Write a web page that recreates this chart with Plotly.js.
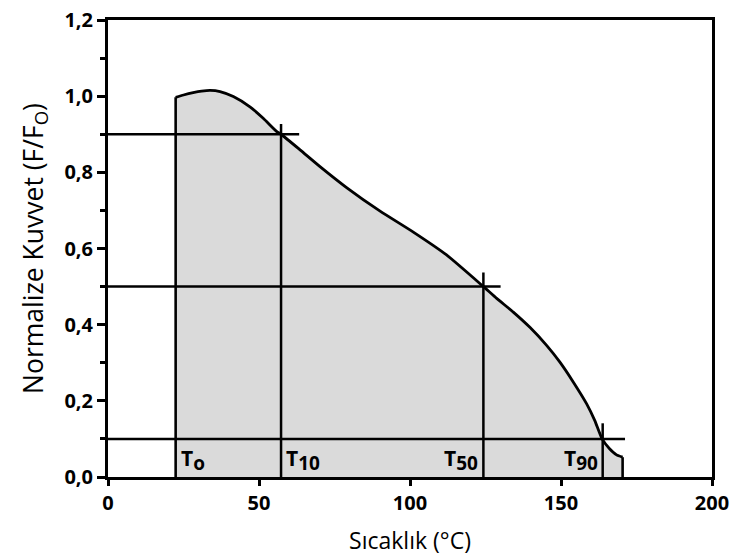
<!DOCTYPE html>
<html>
<head>
<meta charset="utf-8">
<script src="https://cdn.plot.ly/plotly-3.0.1.min.js"></script>
<style>html,body{margin:0;padding:0;background:#fff}#chart{width:735px;height:557px}</style>
</head>
<body>
<div id="chart"></div>
<script>
// Curve: normalized force vs temperature (from onset T0 to end)
const tempC = [22.4, 25, 28.2, 31, 33.8, 37.1, 41.5, 47, 51.4, 55.9, 57.3, 63.6, 70.2, 79, 90.1, 101.1, 112.1, 124.3, 128.7, 134.2, 139.7, 145.3, 149.7, 154.1, 158.5, 161.2, 163.6, 166, 168.4, 170.4];
const forceNorm = [0.997, 1.003, 1.009, 1.013, 1.015, 1.012, 0.999, 0.972, 0.942, 0.907, 0.9, 0.859, 0.815, 0.760, 0.698, 0.643, 0.583, 0.5, 0.469, 0.433, 0.393, 0.345, 0.301, 0.249, 0.192, 0.148, 0.1, 0.075, 0.058, 0.052];

// Characteristic temperatures
const T0 = 22.4;
const markNames = ["T<sub>10</sub>", "T<sub>50</sub>", "T<sub>90</sub>"];
const markLevels = [0.9, 0.5, 0.1];        // force level of each reference line
const markTemps = [57.3, 124.3, 163.8];    // temperature where curve crosses level
const hLineEnds = [63.3, 130, 171.2];      // right end of horizontal lines
const vLineTops = [0.927, 0.537, 0.141];   // top end of vertical lines

const xTicks = [0, 50, 100, 150, 200];
const yTicks = [0, 0.2, 0.4, 0.6, 0.8, 1.0, 1.2];

const traces = [];
traces.push({
  x: tempC, y: forceNorm, type: 'scatter', mode: 'lines',
  fill: 'tozeroy', fillcolor: '#dadada',
  line: {color: '#000', width: 2.8, shape: 'spline', smoothing: 0.5}, hoverinfo: 'skip', showlegend: false
});
// vertical edges of the curve at start and end
traces.push({
  x: [tempC[0], tempC[0]], y: [0, forceNorm[0]], type: 'scatter', mode: 'lines',
  line: {color: '#000', width: 2.6}, hoverinfo: 'skip', showlegend: false
});
traces.push({
  x: [tempC[tempC.length - 1], tempC[tempC.length - 1]], y: [0, forceNorm[forceNorm.length - 1]], type: 'scatter', mode: 'lines',
  line: {color: '#000', width: 2.6}, hoverinfo: 'skip', showlegend: false
});
for (let i = 0; i < markLevels.length; i++) {
  traces.push({
    x: [0, hLineEnds[i]], y: [markLevels[i], markLevels[i]],
    type: 'scatter', mode: 'lines', line: {color: '#000', width: 2.5},
    showlegend: false, hoverinfo: 'skip'
  });
  traces.push({
    x: [markTemps[i], markTemps[i]], y: [0, vLineTops[i]],
    type: 'scatter', mode: 'lines', line: {color: '#000', width: 2.5},
    showlegend: false, hoverinfo: 'skip'
  });
}

const annFont = {family: 'Open Sans, sans-serif', size: 21, color: '#000'};
function lab(t) {
  // larger subscript than default, as in the reference
  return '<b>' + t.replace(/<sub>(.*?)<\/sub>/, "<sub><span style='font-size:19px'>$1</span></sub>") + '</b>';
}
const annotations = [{
  x: T0, y: 0.045, xref: 'x', yref: 'y', text: lab('T<sub>o</sub>'),
  showarrow: false, xanchor: 'left', xshift: 3, font: annFont
}];
const anchors = ['left', 'right', 'right'];
for (let i = 0; i < markNames.length; i++) {
  annotations.push({
    x: markTemps[i], y: 0.045, xref: 'x', yref: 'y', text: lab(markNames[i]),
    showarrow: false, xanchor: anchors[i], xshift: anchors[i] === 'left' ? 3 : -3, font: annFont
  });
}

const tickFont = {family: 'Open Sans, sans-serif', size: 20, color: '#000', weight: 700};
const layout = {
  width: 735, height: 557,
  margin: {l: 108, r: 23, t: 20, b: 80},
  paper_bgcolor: '#fff', plot_bgcolor: '#fff',
  separators: ',.',
  showlegend: false,
  xaxis: {
    range: [0, 200], tickvals: xTicks, ticktext: xTicks.map(String),
    ticks: 'outside', ticklen: 6, tickwidth: 3, tickcolor: '#000',
    showline: true, linecolor: '#000', linewidth: 3, mirror: true,
    showgrid: false, zeroline: false, tickfont: tickFont,
    title: {text: 'Sıcaklık (°C)', font: {family: 'Open Sans, sans-serif', size: 23, color: '#000'}, standoff: 18}
  },
  yaxis: {
    range: [0, 1.2], tickvals: yTicks, tickformat: '.1f',
    ticks: 'outside', ticklen: 8, tickwidth: 3, tickcolor: '#000',
    minor: {dtick: 0.1, ticks: 'outside', ticklen: 5, tickwidth: 3, tickcolor: '#000'},
    showline: true, linecolor: '#000', linewidth: 3, mirror: true,
    showgrid: false, zeroline: false, tickfont: tickFont,
    title: {text: 'Normalize Kuvvet (F/F<sub>O</sub>)', font: {family: 'Open Sans, sans-serif', size: 26.5, color: '#000'}, standoff: 14}
  },
  annotations: annotations
};

Plotly.newPlot('chart', traces, layout, {displayModeBar: false, staticPlot: true});
</script>
</body>
</html>
